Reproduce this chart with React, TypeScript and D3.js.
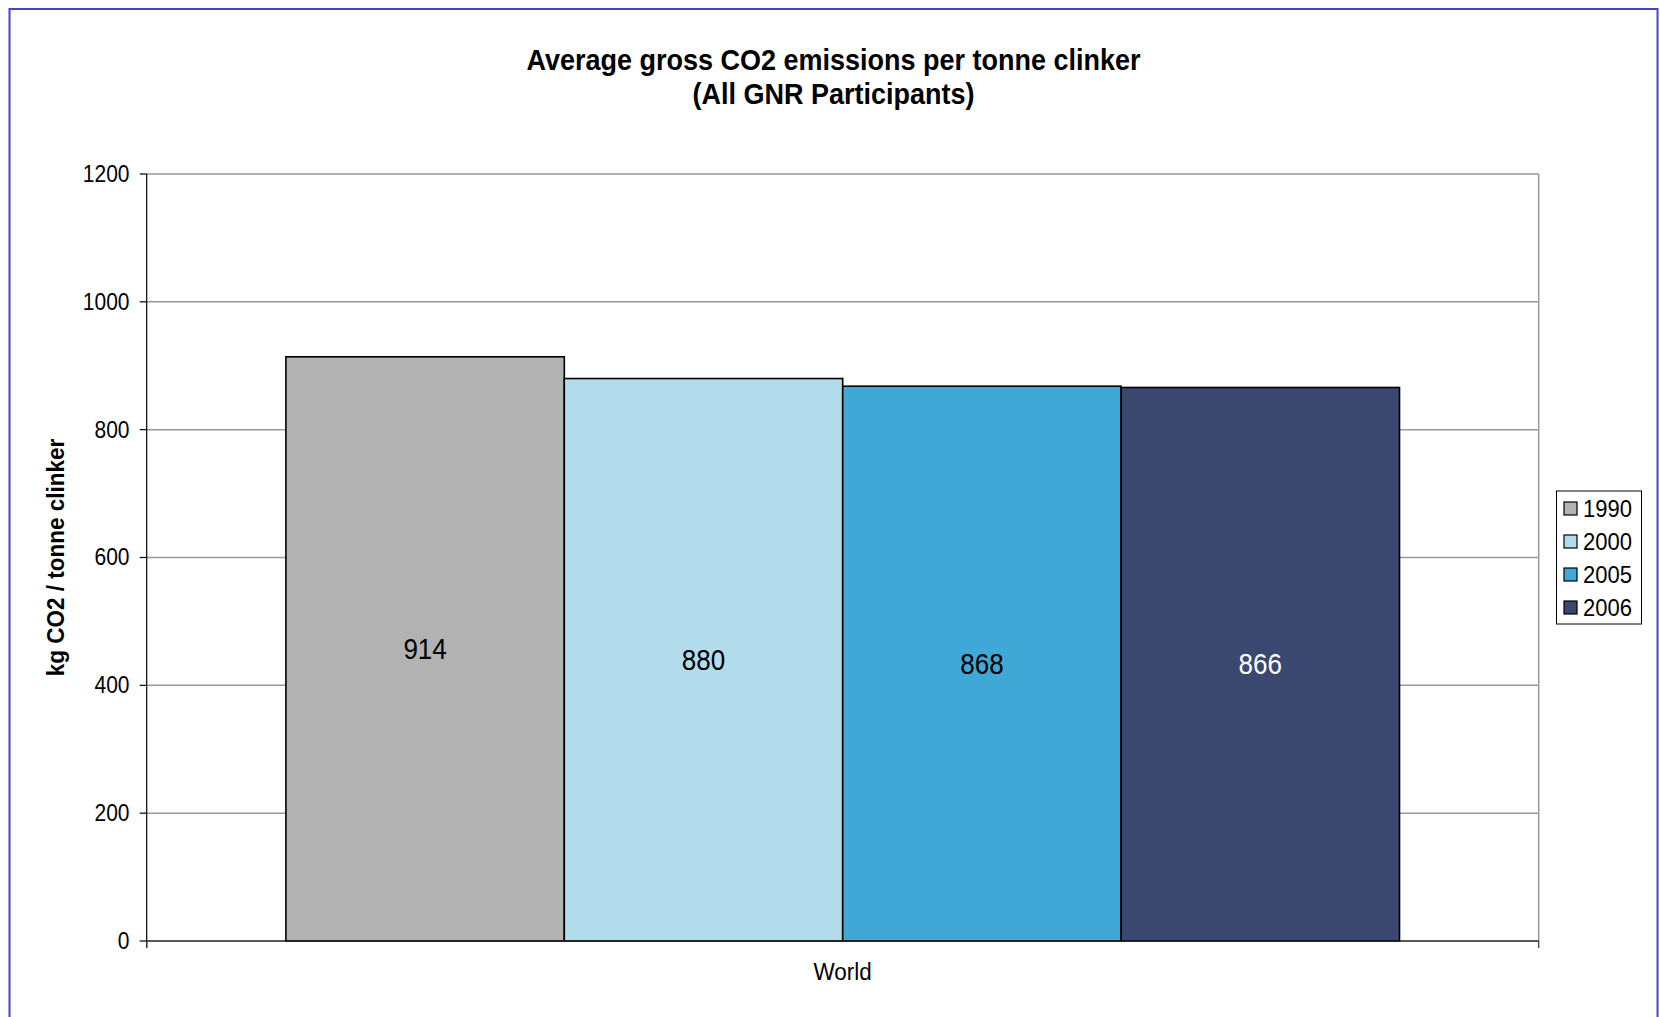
import React from "react";
import * as d3 from "d3";

const categories = ["World"];
const years = ["1990", "2000", "2005", "2006"];
const values = [914, 880, 868, 866];
const colors = ["#b2b2b2", "#b2dbec", "#3fa8d6", "#3a4870"];
const labelColors = ["#000", "#000", "#000", "#fff"];
const yTicks = [0, 200, 400, 600, 800, 1000, 1200];
const titleLines = ["Average gross CO2 emissions per tonne clinker", "(All GNR Participants)"];
const yAxisTitle = "kg CO2 / tonne clinker";

const W = 1660;
const H = 1017;
const plot = { left: 146.7, right: 1538.7, top: 174, bottom: 941 };
const FONT = "'Liberation Sans', Arial, sans-serif";
const SY = 1.1;

function T(props: {
  x: number;
  y: number;
  rotate?: number;
  anchor?: string;
  size: number;
  bold?: boolean;
  fill?: string;
  children: React.ReactNode;
}) {
  const { x, y, rotate, anchor, size, bold, fill, children } = props;
  return (
    <text
      transform={`translate(${x}, ${y})${rotate ? ` rotate(${rotate})` : ""} scale(1, ${SY})`}
      textAnchor={anchor || "start"}
      dominantBaseline="central"
      fontSize={size}
      fontWeight={bold ? "bold" : "normal"}
      fill={fill || "#000"}
    >
      {children}
    </text>
  );
}

export default function App() {
  const y = d3.scaleLinear().domain([0, 1200]).range([plot.bottom, plot.top]);
  const xCat = d3.scaleBand().domain(categories).range([plot.left, plot.right]).padding(0);
  const catW = xCat.bandwidth();

  return (
    <svg
      width={W}
      height={H}
      style={{ position: "absolute", left: 0, top: 0, background: "#fff" }}
      fontFamily={FONT}
    >
      <rect x={0} y={0} width={W} height={H} fill="#fff" />
      {/* outer chart border */}
      <rect x={9.5} y={9} width={1648} height={1030} fill="none" stroke="#4343d6" strokeWidth={2} />

      {/* title */}
      {titleLines.map((t, i) => (
        <T key={i} x={833.5} y={60 + i * 34} anchor="middle" size={27} bold>
          {t}
        </T>
      ))}

      {/* gridlines */}
      {yTicks.filter((t) => t > 0).map((t) => (
        <line key={t} x1={plot.left} x2={plot.right} y1={y(t)} y2={y(t)} stroke="#9a9a9a" strokeWidth={1.5} />
      ))}
      {/* right plot border */}
      <line x1={plot.right} x2={plot.right} y1={plot.top} y2={plot.bottom} stroke="#9a9a9a" strokeWidth={1.5} />

      {/* bars */}
      {categories.map((c) => {
        const cx = xCat(c)!;
        const xs = d3.scaleBand().domain(years).range([cx + catW * 0.1, cx + catW * 0.9]).padding(0);
        return (
          <g key={c}>
            {years.map((yr, i) => (
              <g key={yr}>
                <rect
                  x={xs(yr)!}
                  y={y(values[i])}
                  width={xs.bandwidth()}
                  height={y(0) - y(values[i])}
                  fill={colors[i]}
                  stroke="#000"
                  strokeWidth={1.6}
                />
                <T
                  x={xs(yr)! + xs.bandwidth() / 2}
                  y={(y(values[i]) + y(0)) / 2}
                  anchor="middle"
                  size={26}
                  fill={labelColors[i]}
                >
                  {values[i]}
                </T>
              </g>
            ))}
          </g>
        );
      })}

      {/* y axis */}
      <line x1={plot.left} x2={plot.left} y1={plot.top} y2={plot.bottom + 7} stroke="#000" strokeWidth={1.2} />
      {yTicks.map((t) => (
        <g key={t}>
          <line x1={plot.left - 7} x2={plot.left} y1={y(t)} y2={y(t)} stroke="#000" strokeWidth={1.2} />
          <T x={129.5} y={y(t)} anchor="end" size={21}>
            {t}
          </T>
        </g>
      ))}

      {/* x axis */}
      <line x1={plot.left} x2={plot.right} y1={plot.bottom} y2={plot.bottom} stroke="#222" strokeWidth={1.5} />
      {[plot.left, plot.right].map((xv, i) => (
        <line key={i} x1={xv} x2={xv} y1={plot.bottom} y2={plot.bottom + 7} stroke="#333" strokeWidth={1.2} />
      ))}
      {categories.map((c) => (
        <T key={c} x={xCat(c)! + catW / 2} y={972} anchor="middle" size={22.5}>
          {c}
        </T>
      ))}

      {/* y axis title */}
      <T x={56} y={(plot.top + plot.bottom) / 2} rotate={-90} anchor="middle" size={22.5} bold>
        {yAxisTitle}
      </T>

      {/* legend */}
      <rect x={1556.5} y={491} width={85} height={133} fill="#fff" stroke="#000" strokeWidth={1} />
      {years.map((yr, i) => (
        <g key={yr}>
          <rect x={1564} y={502 + i * 33} width={13} height={13} fill={colors[i]} stroke="#000" strokeWidth={1.2} />
          <T x={1583} y={508.5 + i * 33} size={22}>
            {yr}
          </T>
        </g>
      ))}
    </svg>
  );
}
